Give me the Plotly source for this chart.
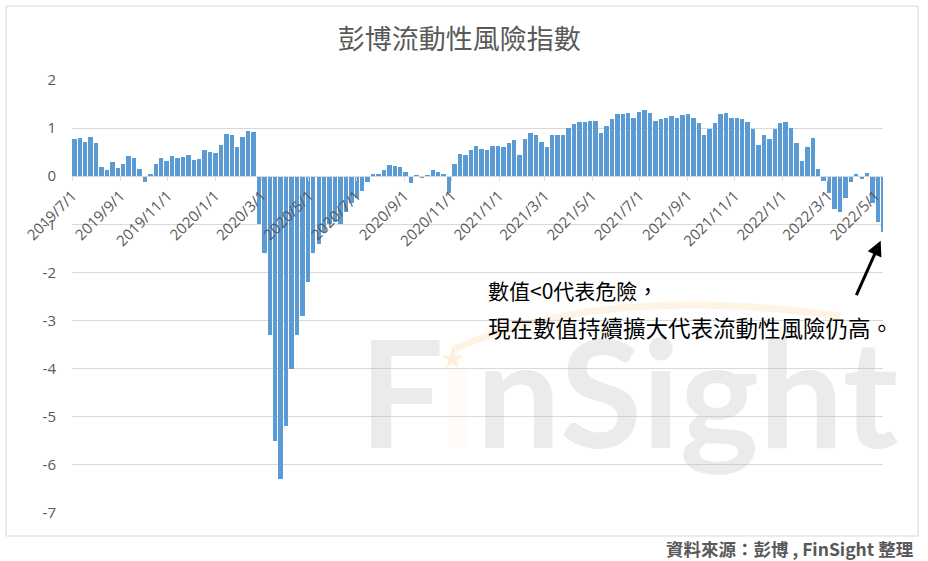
import pandas as pd
import plotly.graph_objects as go

# weekly readings of the index (each bar = one trading week, Mon-Fri)
first_week = "2019-07-01"
liquidity_index = [
    0.78, 0.80, 0.72, 0.82, 0.70, 0.20, 0.12, 0.30, 0.18, 0.25,
    0.42, 0.38, 0.15, -0.12, 0.05, 0.25, 0.38, 0.32, 0.42, 0.38,
    0.40, 0.45, 0.33, 0.35, 0.55, 0.50, 0.48, 0.65, 0.87, 0.85,
    0.60, 0.82, 0.93, 0.92, -1.00, -1.60, -3.30, -5.50, -6.30, -5.20,
    -4.00, -3.30, -2.90, -2.20, -1.60, -1.40, -1.15, -1.00, -0.95, -1.00,
    -0.75, -0.55, -0.45, -0.30, -0.12, 0.04, 0.04, 0.12, 0.23, 0.21,
    0.20, 0.08, -0.15, 0.03, -0.03, 0.03, 0.12, 0.08, 0.05, -0.35,
    0.25, 0.47, 0.45, 0.55, 0.63, 0.57, 0.55, 0.62, 0.63, 0.60,
    0.70, 0.75, 0.45, 0.78, 0.90, 0.85, 0.72, 0.60, 0.85, 0.85,
    0.85, 1.00, 1.08, 1.12, 1.13, 1.15, 1.15, 0.90, 1.05, 1.18,
    1.30, 1.30, 1.32, 1.20, 1.33, 1.38, 1.32, 1.15, 1.18, 1.20,
    1.25, 1.22, 1.27, 1.30, 1.22, 1.10, 0.85, 0.98, 1.10, 1.30,
    1.32, 1.22, 1.22, 1.18, 1.12, 0.98, 0.65, 0.85, 0.78, 0.98,
    1.10, 1.12, 1.00, 0.70, 0.32, 0.60, 0.80, 0.15, -0.10, -0.35,
    -0.68, -0.75, -0.45, -0.12, 0.05, -0.05, 0.07, -0.55, -0.95, -1.15,
]

tick_dates = [
    "2019-07-01", "2019-09-01", "2019-11-01", "2020-01-01", "2020-03-01",
    "2020-05-01", "2020-07-01", "2020-09-01", "2020-11-01", "2021-01-01",
    "2021-03-01", "2021-05-01", "2021-07-01", "2021-09-01", "2021-11-01",
    "2022-01-01", "2022-03-01", "2022-05-01",
]
tick_text = [
    "2019/7/1", "2019/9/1", "2019/11/1", "2020/1/1", "2020/3/1",
    "2020/5/1", "2020/7/1", "2020/9/1", "2020/11/1", "2021/1/1",
    "2021/3/1", "2021/5/1", "2021/7/1", "2021/9/1", "2021/11/1",
    "2022/1/1", "2022/3/1", "2022/5/1",
]
y_ticks = [2, 1, 0, -1, -2, -3, -4, -5, -6, -7]
y_tick_text = ["2", "1", "0", "-1", "-2", "-3", "-4", "-5", "-6", "-7"]

title = "彭博流動性風險指數"
note_1 = "數值<0代表危險，"
note_2 = "現在數值持續擴大代表流動性風險仍高。"
source = "資料來源：彭博 , FinSight 整理"

weeks = pd.date_range(first_week, periods=len(liquidity_index), freq="7D")
DAY_MS = 86400000

# plot area in pixels (928x561 page)
L, R, T, B = 72, 883, 80, 513
W, H = R - L, B - T


def px(x):
    return (x - L) / W


def py(y):
    return (B - y) / H


CJK = "Noto Sans CJK TC"
GREY = "#595959"

fig = go.Figure()
fig.add_trace(go.Bar(
    x=weeks, y=liquidity_index,
    width=5.7 * DAY_MS, offset=-0.3 * DAY_MS,
    marker=dict(color="#5B9BD5", line=dict(width=0)),
    hoverinfo="x+y",
))

fig.update_layout(
    width=928, height=561,
    margin=dict(l=L, r=928 - R, t=T, b=561 - B),
    paper_bgcolor="white", plot_bgcolor="white",
    showlegend=False, bargap=0,
    title=dict(text=title, x=0.495, xanchor="center", y=1 - 40 / 561, yanchor="middle",
               font=dict(family=CJK, size=27, color=GREY)),
    xaxis=dict(
        type="date", range=["2019-06-30 12:00", "2022-05-11"],
        anchor="free", position=7 / 9,
        tickvals=tick_dates, ticktext=tick_text, tickangle=-45,
        tickfont=dict(family="Open Sans", size=15, color=GREY),
        showgrid=False, showline=True, linecolor="#d9d9d9", linewidth=1,
        ticks="outside", ticklen=4, tickcolor="#d9d9d9",
    ),
    yaxis=dict(
        range=[-7, 2], tickvals=y_ticks, ticktext=y_tick_text, domain=[0, 1],
        tickfont=dict(family="Open Sans", size=15, color=GREY),
        gridcolor="#d9d9d9", gridwidth=1,
        zeroline=True, zerolinecolor="#d9d9d9", zerolinewidth=1,
        showline=False, ticklabelstandoff=15,
    ),
)

# outer chart border
fig.add_shape(type="rect", xref="paper", yref="paper",
              x0=px(6), x1=px(918), y0=py(536), y1=py(6),
              line=dict(color="#d9d9d9", width=1), layer="below")

# faint FinSight watermark
fig.add_shape(type="path", xref="paper", yref="paper",
              path=f"M {px(452)},{py(350)} Q {px(600)},{py(283)} {px(840)},{py(316)}",
              line=dict(color="rgba(250,200,130,0.22)", width=7), layer="below")
fig.add_annotation(
    x=px(628), y=py(390), xref="paper", yref="paper", showarrow=False,
    xanchor="center", yanchor="middle",
    text="F<span style='color:rgba(250,200,130,0.25)'>ı</span>nSight",
    font=dict(family="Lato", size=150, color="rgba(190,190,190,0.3)", weight="bold"),
)
fig.add_annotation(
    x=px(452), y=py(358), xref="paper", yref="paper", showarrow=False,
    xanchor="center", yanchor="middle",
    text="★", font=dict(family="DejaVu Sans", size=28, color="rgba(250,200,130,0.3)"),
)

fig.add_annotation(x=px(486), y=py(290), xref="paper", yref="paper", showarrow=False,
                   text=note_1, xanchor="left", yanchor="middle",
                   font=dict(family=CJK, size=21, color="black"))
fig.add_annotation(x=px(486), y=py(327), xref="paper", yref="paper", showarrow=False,
                   text=note_2, xanchor="left", yanchor="middle",
                   font=dict(family=CJK, size=22.5, color="black"))

# arrow pointing at the latest reading
fig.add_annotation(x=px(880.7), y=py(240.7), xref="paper", yref="paper",
                   text="", showarrow=True, ax=-25, ay=56,
                   arrowhead=2, arrowsize=1, arrowwidth=3, arrowcolor="black")

fig.add_annotation(x=px(916), y=py(548), xref="paper", yref="paper", showarrow=False,
                   text=source, xanchor="right", yanchor="middle",
                   font=dict(family=CJK, size=17.5, color=GREY, weight="bold"))

# page body has a default 8px margin; drop it so the chart sits at the top-left
fig.write_html("out.html", config={"displayModeBar": False},
               post_script="document.body.style.margin = '0';")
